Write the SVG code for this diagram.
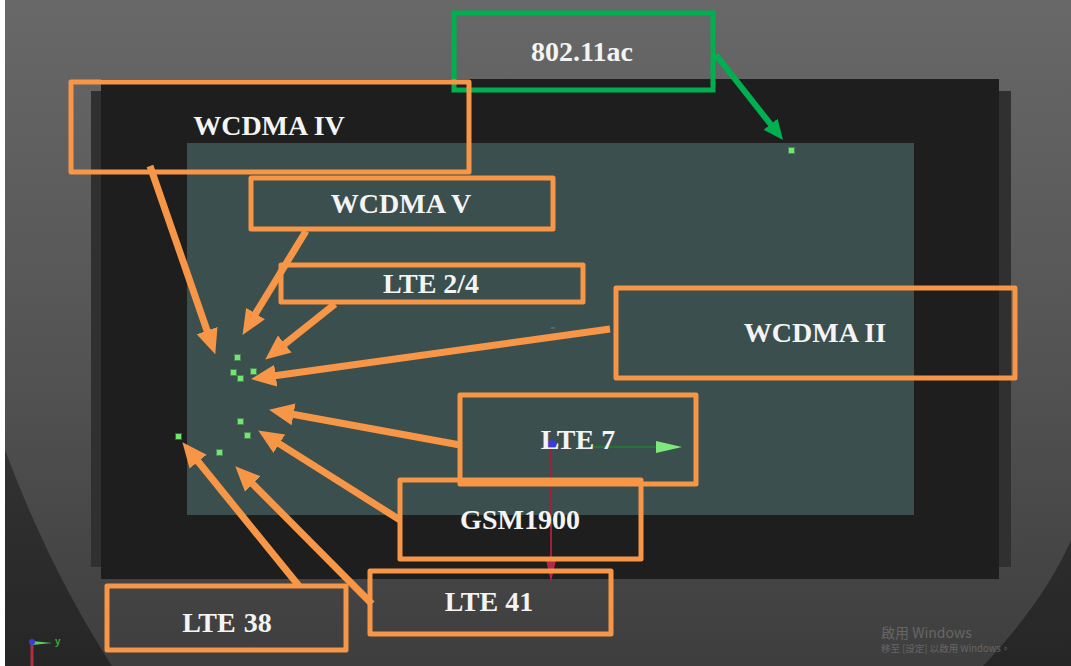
<svg xmlns="http://www.w3.org/2000/svg" width="1071" height="666" viewBox="0 0 1071 666">
<style>
.box{fill:none;stroke:#f79646;stroke-width:5;stroke-linejoin:round}
.gbox{fill:none;stroke:#00b050;stroke-width:5}
.arr{stroke:#f79646;stroke-width:7;fill:none;marker-end:url(#oh)}
.garr{stroke:#00b050;stroke-width:6;fill:none;marker-end:url(#gh)}
.lbl{font-family:"Liberation Serif","Times New Roman",serif;font-weight:bold;font-size:28px;fill:#f4f4f4;text-anchor:middle}
.dot{fill:#6fe86f;stroke:#6fe86f;stroke-opacity:.35;stroke-width:2}
.wm{font-family:"Noto Sans CJK TC","Noto Sans",sans-serif;fill:#666}
</style>
<defs>
<linearGradient id="bg" x1="0" y1="0" x2="0" y2="1"><stop offset="0" stop-color="#686868"/><stop offset="0.5" stop-color="#555"/><stop offset="1" stop-color="#3e3e3e"/></linearGradient>
<linearGradient id="co" x1="0" y1="0" x2="0" y2="1"><stop offset="0" stop-color="#4a4a4a"/><stop offset="1" stop-color="#262626"/></linearGradient>
<marker id="oh" markerUnits="userSpaceOnUse" markerWidth="30" markerHeight="26" refX="12" refY="12" orient="auto"><path d="M0 1L25 12L0 23Z" fill="#f79646"/></marker>
<marker id="gh" markerUnits="userSpaceOnUse" markerWidth="24" markerHeight="22" refX="10" refY="9" orient="auto"><path d="M0 0L20 9L0 18Z" fill="#00b050"/></marker>
</defs>
<rect width="1071" height="666" fill="#fff"/>
<rect x="5" width="1066" height="666" fill="url(#co)"/>
<path d="M5 450Q50 570 112 666H983Q1045 600 1071 540V0H5Z" fill="url(#bg)"/>
<g id="scene">
<rect x="91" y="91" width="920" height="476" fill="#303030"/>
<rect x="101" y="79" width="898" height="500" fill="#1e1e1e"/>
<rect x="187" y="143" width="727" height="372" fill="#3c4f4f"/>
<rect x="551" y="327" width="4" height="2" fill="#566"/>
<path d="M590 447H660" stroke="#0a9a1e" stroke-width="1" fill="none"/>
<path d="M656 441L682 447L656 453Z" fill="#7de87d"/>
<path d="M551 445V578" stroke="#a02038" stroke-width="2" fill="none"/>
<path d="M546 560H556L551 582Z" fill="#b02a48"/>
<circle cx="552" cy="444" r="4" fill="#3a3ae0"/>
<g class="dot">
<rect x="789" y="148" width="5" height="5"/>
<rect x="235" y="355" width="5" height="5"/><rect x="231" y="370" width="5" height="5"/><rect x="251" y="369" width="5" height="5"/><rect x="238" y="376" width="5" height="5"/>
<rect x="238" y="419" width="5" height="5"/><rect x="245" y="433" width="5" height="5"/><rect x="217" y="450" width="5" height="5"/><rect x="176" y="434" width="5" height="5"/>
</g>
<text class="wm" x="881" y="638" font-size="14">啟用 Windows</text>
<text class="wm" x="881" y="652" font-size="9.5">移至 [設定] 以啟用 Windows。</text>
<path d="M32 643V666" stroke="#b03040" stroke-width="3" fill="none"/>
<path d="M32 641L52 643L32 645Z" fill="#5ad05a"/>
<circle cx="32" cy="642" r="3" fill="#3a3ae0"/>
<text x="55" y="645" font-family="Liberation Sans,sans-serif" font-size="10" font-weight="bold" fill="#30b030">y</text>
</g>
<g id="connectors">
<line class="arr" x1="150" y1="166" x2="211" y2="342"/>
<line class="arr" x1="306" y1="231" x2="249.3" y2="323.8"/>
<line class="arr" x1="335" y1="304" x2="275.4" y2="351.5"/>
<line class="arr" x1="610" y1="329" x2="263.9" y2="377.3"/>
<line class="arr" x1="460" y1="445" x2="281.8" y2="412.2"/>
<line class="arr" x1="400" y1="520" x2="269.2" y2="437.4"/>
<line class="arr" x1="372" y1="604" x2="244.4" y2="475.5"/>
<line class="arr" x1="299" y1="586" x2="190.6" y2="452.3"/>
<line class="garr" x1="716" y1="55" x2="776.8" y2="132.1"/>
</g>
<g id="n-80211ac"><rect class="gbox" x="454" y="13" width="259" height="77"/><text class="lbl" x="582" y="61">802.11ac</text></g>
<g id="n-wcdma-iv"><rect class="box" x="71" y="82" width="398" height="90"/><text class="lbl" x="269" y="135">WCDMA IV</text></g>
<g id="n-wcdma-v"><rect class="box" x="251" y="178" width="302" height="51"/><text class="lbl" x="401" y="213">WCDMA V</text></g>
<g id="n-lte24"><rect class="box" x="281" y="265" width="302" height="37"/><text class="lbl" x="431" y="293">LTE 2/4</text></g>
<g id="n-wcdma-ii"><rect class="box" x="616" y="288" width="399" height="90"/><text class="lbl" x="815" y="342">WCDMA II</text></g>
<g id="n-lte7"><rect class="box" x="460" y="395" width="236" height="89"/><text class="lbl" x="578" y="449">LTE 7</text></g>
<g id="n-gsm1900"><rect class="box" x="400" y="480" width="241" height="79"/><text class="lbl" x="520" y="529">GSM1900</text></g>
<g id="n-lte41"><rect class="box" x="370" y="571" width="241" height="63"/><text class="lbl" x="489" y="611">LTE 41</text></g>
<g id="n-lte38"><rect class="box" x="107" y="586" width="239" height="64"/><text class="lbl" x="227" y="632" style="word-spacing:1px">LTE 38</text></g>
</svg>
